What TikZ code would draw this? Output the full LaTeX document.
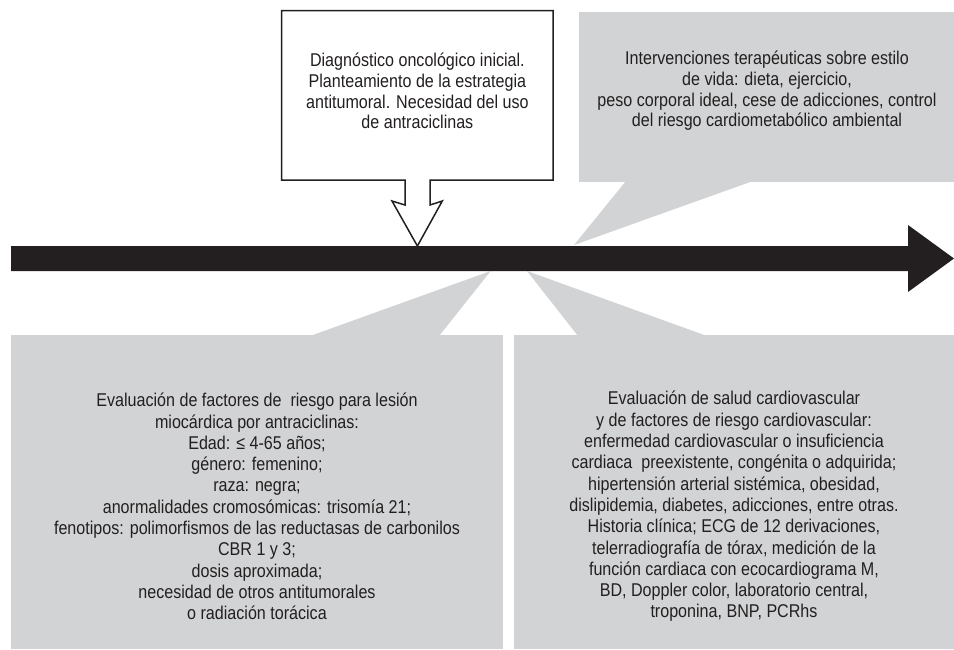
\documentclass[tikz,border=0pt]{standalone}
\usepackage{fontspec}
\setmainfont{Liberation Sans}[FakeStretch=0.87]
\usepackage{tikz}

\definecolor{panelgray}{RGB}{209,211,212}
\definecolor{inkblack}{RGB}{35,31,32}

\tikzset{
	panel/.style={fill=panelgray, inner sep=0pt},
	frame/.style={draw=inkblack, line width=1.5pt, fill=white, line join=miter},
	note/.style={align=center, text=inkblack, inner sep=0pt, font=\fontsize{18.5}{20.6}\selectfont},
	longnote/.style={note, font=\fontsize{18.5}{21.3}\selectfont}
}

\begin{document}
\begin{tikzpicture}[x=1pt, y=-1pt]

	\useasboundingbox (0,0) rectangle (954,649);

	\coordinate (diagtip) at (417.4, 246);
	\coordinate (vidatip) at (574, 245);
	\coordinate (riesgotip) at (490.7, 271);
	\coordinate (saludtip) at (527, 271);

	\node[panel, minimum width=375, minimum height=170] (vida) at (766.5, 97) {};
	\node[panel, minimum width=492.3, minimum height=314] (riesgo) at (257.15, 492) {};
	\node[panel, minimum width=440, minimum height=314] (salud) at (734, 492) {};
	\node[inner sep=0pt, minimum width=271.3, minimum height=169.3] (diag) at (417.35, 95.35) {};

	\fill[panelgray] (626, 181) -- (vidatip) -- (753, 181) -- cycle;
	\fill[panelgray] (310, 336) -- (riesgotip) -- (439, 336) -- cycle;
	\fill[panelgray] (578, 336) -- (saludtip) -- (707, 336) -- cycle;

	\draw[frame] (diag.north west) -- (diag.north east) -- (diag.south east) -- (430, 180) -- (430, 205) -- (442.3, 201) -- (diagtip) -- (392, 201) -- (405, 205) -- (405, 180) -- (diag.south west) -- cycle;

	\fill[inkblack] (11, 246) -- (908, 246) -- (908, 225) -- (954, 258.5) -- (908, 292) -- (908, 271) -- (11, 271) -- cycle;

	\node[note] (diagtext) at (417.4, 91) {Diagnóstico oncológico inicial.\\ Planteamiento de la estrategia\\ antitumoral. Necesidad del uso\\ de antraciclinas};
	\node[note] (vidatext) at (767, 91) {Intervenciones terapéuticas sobre estilo\\ de vida: dieta, ejercicio,\\ peso corporal ideal, cese de adicciones, control\\ del riesgo cardiometabólico ambiental};
	\node[longnote] (riesgotext) at (257, 506.5) {Evaluación de factores de\ \ riesgo para lesión\\ miocárdica por antraciclinas:\\ Edad: ≤ 4-65 años;\\ género: femenino;\\ raza: negra;\\ anormalidades cromosómicas: trisomía 21;\\ fenotipos: polimorfismos de las reductasas de carbonilos\\ CBR 1 y 3;\\ dosis aproximada;\\ necesidad de otros antitumorales\\ o radiación torácica};
	\node[longnote] (saludtext) at (734, 506.5) {Evaluación de salud cardiovascular\\ y de factores de riesgo cardiovascular:\\ enfermedad cardiovascular o insuficiencia\\ cardiaca\ \ preexistente, congénita o adquirida;\\ hipertensión arterial sistémica, obesidad,\\ dislipidemia, diabetes, adicciones, entre otras.\\ Historia clínica; ECG de 12 derivaciones,\\ telerradiografía de tórax, medición de la\\ función cardiaca con ecocardiograma M,\\ BD, Doppler color, laboratorio central,\\ troponina, BNP, PCRhs};

\end{tikzpicture}
\end{document}
